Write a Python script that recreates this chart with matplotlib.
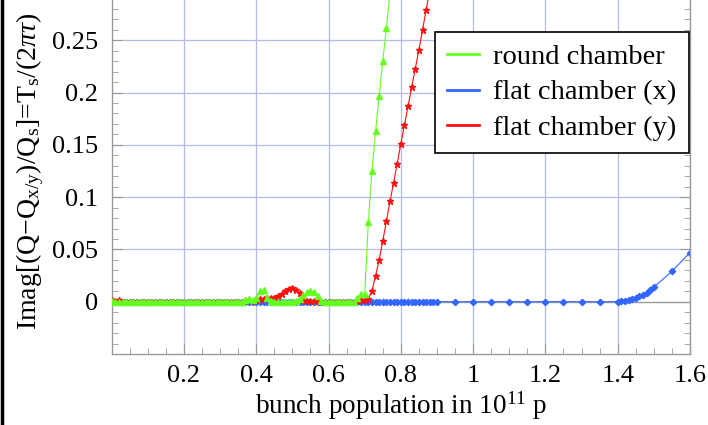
import numpy as np
import matplotlib
matplotlib.use("Agg")
import matplotlib.pyplot as plt
from matplotlib.lines import Line2D

plt.rcParams['font.family'] = ['Liberation Serif', 'DejaVu Serif']
plt.rcParams['mathtext.fontset'] = 'custom'
plt.rcParams['mathtext.rm'] = 'Liberation Serif'
plt.rcParams['mathtext.it'] = 'Liberation Serif:italic'

# ---------------- data ----------------
round_x = np.round(np.arange(0, 78) * 0.01, 2)
round_y = [0.001, 0, 0, 0, 0, 0, 0, 0, 0, 0,
           0, 0, 0, 0, 0, 0, 0, 0, 0, 0,
           0, 0, 0, 0, 0, 0, 0, 0, 0, 0,
           0, 0, 0, 0, 0, 0, 0, 0.002, 0.003, 0.002,
           0.004, 0.010, 0.011, 0.004, 0.001, 0, 0, 0, 0, 0,
           0, 0.001, 0.003, 0.006, 0.009, 0.010, 0.009, 0.005, 0.001, 0,
           0, 0, 0, 0, 0, 0, 0, 0, 0.004, 0.007,
           0.007, 0.076, 0.125, 0.163, 0.197, 0.230, 0.262, 0.295]

flaty_x = np.round(np.arange(0, 89) * 0.01, 2)
flaty_y = [0.002, 0.001, 0.002, 0, 0, 0, 0, 0, 0, 0,
           0, 0, 0, 0, 0, 0, 0, 0, 0, 0,
           0, 0, 0, 0, 0, 0, 0, 0, 0, 0,
           0, 0, 0, 0, 0, 0, 0, 0.001, 0.002, 0.001,
           0.002, 0.003, 0.003, 0.004, 0.004, 0.004, 0.005, 0.007, 0.010, 0.012,
           0.013, 0.011, 0.008, 0.002, 0.001, 0.001, 0.001, 0.001, 0, 0,
           0, 0, 0, 0, 0, 0, 0, 0, 0.001, 0.002,
           0.002, 0.003, 0.010, 0.025, 0.040, 0.058, 0.077, 0.096, 0.114, 0.132,
           0.151, 0.169, 0.187, 0.205, 0.223, 0.241, 0.260, 0.279, 0.298]

flatx_x = list(np.round(np.arange(0, 91) * 0.01, 2)) + \
    [0.95, 1.00, 1.05, 1.10, 1.15, 1.20, 1.25, 1.30, 1.35,
     1.40, 1.41, 1.42, 1.43, 1.44, 1.45, 1.46, 1.47, 1.48, 1.49, 1.50,
     1.55, 1.60]
flatx_y = [0] * 91 + \
    [0, 0, 0, 0, 0, 0, 0, 0, 0,
     0, 0.0005, 0.001, 0.0015, 0.0025, 0.0035, 0.005, 0.0065, 0.008, 0.011, 0.014,
     0.029, 0.047]

labels = ['round chamber', 'flat chamber (x)', 'flat chamber (y)']
colors = ['#66ff22', '#3366ff', '#ff1111']

xticks = [0.2, 0.4, 0.6, 0.8, 1.0, 1.2, 1.4, 1.6]
xticklabels = ['0.2', '0.4', '0.6', '0.8', '1', '1.2', '1.4', '1.6']
yticks = [0, 0.05, 0.1, 0.15, 0.2, 0.25]
yticklabels = ['0', '0.05', '0.1', '0.15', '0.2', '0.25']

# ---------------- figure ----------------
W, H = 708, 425
fig = plt.figure(figsize=(W / 100, H / 100), dpi=100)
left, right, bottom, top = 111.7, 690, 354, -12
ax = fig.add_axes([left / W, 1 - bottom / H, (right - left) / W, (bottom - top) / H])

ax.set_xlim(0, 1.6)
ax.set_ylim(-0.05, 0.3)

gridc = '#b4bbe6'
for xv in xticks:
    ax.axvline(xv, color=gridc, lw=0.9, zorder=0)
for yv in [0.05, 0.1, 0.15, 0.2, 0.25]:
    ax.axhline(yv, color=gridc, lw=0.9, zorder=0)
ax.axhline(0, color='#999999', lw=1.0, zorder=0.5)

ax.plot(flatx_x, flatx_y, color=colors[1], lw=0.8, marker='D', ms=3.2,
        mec=colors[1], zorder=2)
ax.plot(flaty_x, flaty_y, color=colors[2], lw=0.8, marker='*', ms=5,
        mec=colors[2], zorder=3)
ax.plot(round_x, round_y, color=colors[0], lw=0.8, marker='^', ms=4,
        mec=colors[0], zorder=4)

ax.set_xticks(xticks)
ax.set_xticklabels(xticklabels)
ax.set_yticks(yticks)
ax.set_yticklabels(yticklabels)
ax.set_xticks(np.round(np.arange(0, 33) * 0.05, 3), minor=True)
ax.set_yticks(np.round(np.arange(-5, 31) * 0.01, 3), minor=True)
ax.tick_params(which='both', direction='in', colors='#999999', labelcolor='black',
               top=False, right=True, labelsize=19)
ax.tick_params(which='major', length=7, width=0.8)
ax.tick_params(which='minor', length=4, width=0.6)
ax.tick_params(axis='x', pad=8)
ax.tick_params(axis='y', pad=10)
for s in ['left', 'right', 'bottom']:
    ax.spines[s].set_color('#999999')
    ax.spines[s].set_linewidth(1.0)
ax.spines['top'].set_visible(False)

ax.set_xlabel(r'bunch population in 10$^{11}$ p', fontsize=19.5, labelpad=2)
ax.set_ylabel(r'Imag[(Q$-$Q$_{\mathrm{x/y}}$)/Q$_{\mathrm{s}}$]=T$_{\mathrm{s}}$/(2$\pi\tau$)',
              fontsize=20, labelpad=4)

handles = [Line2D([0], [0], color=colors[i], lw=2) for i in range(3)]
leg = ax.legend(handles, labels, loc='upper right',
                bbox_to_anchor=(1 - 1 / (right - left), 1 - 43.7 / (bottom - top)),
                fontsize=20.5, frameon=True, fancybox=False, framealpha=1,
                edgecolor='black', handlelength=1.1, handletextpad=0.5,
                borderpad=0.45, labelspacing=0.32, borderaxespad=0)
leg.get_frame().set_linewidth(1.2)

fig.add_artist(Line2D([2 / W, 2 / W], [0, 1], color='black', lw=2.5,
                      transform=fig.transFigure))

fig.savefig('out.png', dpi=100)
